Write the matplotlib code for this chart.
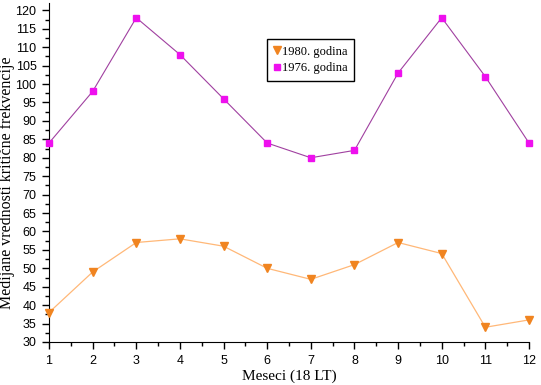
import matplotlib
matplotlib.use("Agg")
import matplotlib.pyplot as plt
from matplotlib.ticker import MultipleLocator

meseci = [1, 2, 3, 4, 5, 6, 7, 8, 9, 10, 11, 12]
god_1980 = [38, 49, 57, 58, 56, 50, 47, 51, 57, 54, 34, 36]
god_1976 = [84, 98, 118, 108, 96, 84, 80, 82, 103, 118, 102, 84]

fig = plt.figure(figsize=(5.41, 3.85), dpi=100)
ax = fig.add_axes([49 / 541, 1 - 342 / 385, 480 / 541, 339 / 385])

ax.plot(meseci, god_1980, color="#ffb878", lw=0.9, marker="v", ms=6,
        mfc="#f08420", mec="#f08420", label="1980. godina", clip_on=False, zorder=3)
ax.plot(meseci, god_1976, color="#a040a0", lw=0.8, marker="s", ms=5,
        mfc="#ee10ee", mec="#ee10ee", label="1976. godina", clip_on=False, zorder=3)

ax.set_xlim(1, 12)
ax.set_ylim(30, 122)
ax.xaxis.set_major_locator(MultipleLocator(1))
ax.xaxis.set_minor_locator(MultipleLocator(0.5))
ax.yaxis.set_major_locator(MultipleLocator(5))
ax.yaxis.set_minor_locator(MultipleLocator(2.5))
ax.tick_params(which="major", direction="out", length=5, width=1,
               labelsize=9, pad=4)
ax.tick_params(which="minor", direction="out", length=3, width=1)
for lab in ax.get_xticklabels() + ax.get_yticklabels():
    lab.set_fontfamily("Liberation Sans")
ax.spines["top"].set_visible(False)
ax.spines["right"].set_visible(False)

serif = "Liberation Serif"
ax.set_xlabel("Meseci (18 LT)", fontfamily=serif, fontsize=11, labelpad=2)
ax.set_ylabel("Medijane vrednosti kritične frekvencije", fontfamily=serif,
              fontsize=11.5)
ax.yaxis.set_label_coords(-0.071, 0.47)

leg = ax.legend(loc="upper left", bbox_to_anchor=(212 / 480, 1 - 30 / 339),
                prop={"family": serif, "size": 9}, handlelength=0.6,
                handletextpad=0.1, borderpad=0.5, labelspacing=0.4,
                fancybox=False, edgecolor="black", framealpha=1)
leg.get_frame().set_linewidth(1)
for h in leg.legend_handles:
    h.set_linestyle("none")

fig.savefig("out.png", dpi=100)
